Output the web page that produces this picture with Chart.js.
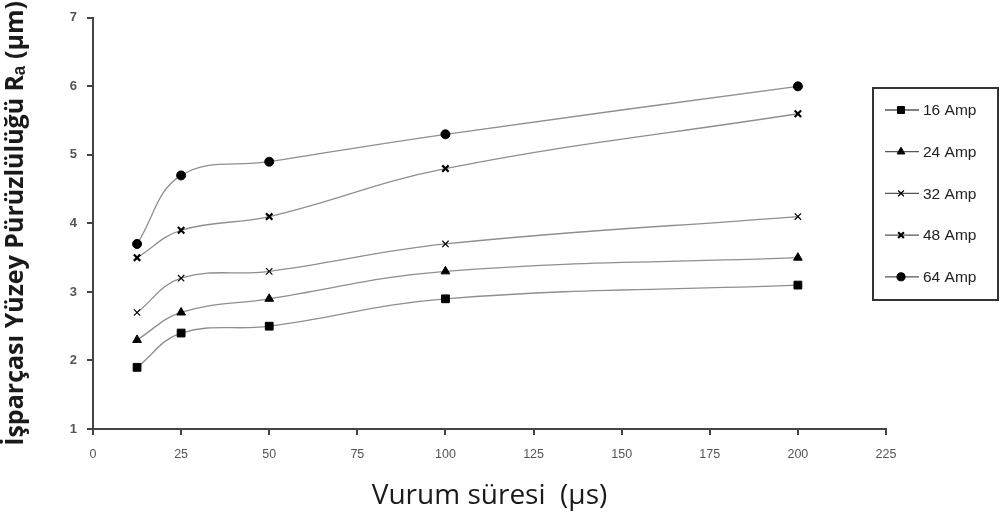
<!DOCTYPE html>
<html>
<head>
<meta charset="utf-8">
<script src="https://cdn.jsdelivr.net/npm/chart.js@4/dist/chart.umd.min.js"></script>
<style>
  html, body { margin: 0; padding: 0; background: #fff; }
  #wrap { width: 1003px; height: 519px; position: relative; }
</style>
</head>
<body>
<div id="wrap"><canvas id="chart"></canvas></div>
<script>
// pulse duration (µs)
const pulseTimes = [12.5, 25, 50, 100, 200];

// surface roughness Ra (µm) per current
const amp16 = [1.9, 2.4, 2.5, 2.9, 3.1];
const amp24 = [2.3, 2.7, 2.9, 3.3, 3.5];
const amp32 = [2.7, 3.2, 3.3, 3.7, 4.1];
const amp48 = [3.5, 3.9, 4.1, 4.8, 5.6];
const amp64 = [3.7, 4.7, 4.9, 5.3, 6.0];

const seriesLabels = ['16 Amp', '24 Amp', '32 Amp', '48 Amp', '64 Amp'];
const seriesValues = [amp16, amp24, amp32, amp48, amp64];
const markers = ['rect', 'triangle', 'crossRot', 'crossRot', 'circle'];
const markerSizes = [5.5, 5, 4.5, 4.5, 4.5];
const markerBorders = [1, 1, 1.2, 2.2, 1];

const datasets = seriesValues.map((vals, i) => ({
    label: seriesLabels[i],
    data: vals.map((v, j) => ({ x: pulseTimes[j], y: v })),
    borderColor: '#8f8f8f',
    borderWidth: 1.3,
    tension: 0.4,
    pointStyle: markers[i],
    pointRadius: markerSizes[i],
    pointBackgroundColor: '#000',
    pointBorderColor: '#000',
    pointBorderWidth: markerBorders[i],
    fill: false
}));

// legend box drawn on the right, line + marker like the original
const boxLegend = {
    id: 'boxLegend',
    afterDraw(chart) {
        const ctx = chart.ctx;
        const x0 = 873, y0 = 88, w = 125, h = 212;
        ctx.save();
        ctx.strokeStyle = '#333';
        ctx.lineWidth = 2;
        ctx.strokeRect(x0, y0, w, h);
        chart.data.datasets.forEach((ds, i) => {
            const y = 110 + i * 41.7;
            ctx.strokeStyle = '#555';
            ctx.lineWidth = 1.3;
            ctx.beginPath();
            ctx.moveTo(885, y);
            ctx.lineTo(919, y);
            ctx.stroke();
            ctx.fillStyle = '#000';
            ctx.strokeStyle = '#000';
            ctx.lineWidth = ds.pointBorderWidth;
            Chart.helpers.drawPoint(ctx, {
                pointStyle: ds.pointStyle,
                radius: ds.pointRadius * 0.9,
                borderWidth: ds.pointBorderWidth,
                rotation: 0
            }, 901, y);
            ctx.fillStyle = '#222';
            ctx.font = '15.5px "Liberation Sans", Arial, sans-serif';
            ctx.textBaseline = 'middle';
            ctx.textAlign = 'left';
            ctx.fillText(ds.label, 923, y + 1);
        });
        ctx.restore();
    }
};

new Chart(document.getElementById('chart'), {
    type: 'line',
    data: { datasets: datasets },
    plugins: [boxLegend],
    options: {
        responsive: true,
        maintainAspectRatio: false,
        animation: false,
        layout: { padding: { top: 15, right: 117, left: 0, bottom: 0 } },
        plugins: {
            legend: { display: false },
            tooltip: { enabled: false }
        },
        scales: {
            x: {
                type: 'linear',
                min: 0,
                max: 225,
                afterFit(scale) { scale.height = 90; },
                ticks: {
                    stepSize: 25,
                    padding: 12,
                    color: '#555',
                    font: { family: '"Liberation Sans", Arial, sans-serif', size: 12.5 }
                },
                grid: {
                    drawOnChartArea: false,
                    drawTicks: true,
                    tickLength: 6,
                    color: '#444',
                    lineWidth: 2
                },
                border: { color: '#444', width: 2 },
                title: {
                    display: true,
                    text: 'Vurum süresi  (µs)',
                    color: '#1a1a1a',
                    font: { family: '"Open Sans", sans-serif', size: 28, weight: '500' },
                    padding: { top: 0, bottom: 6 }
                }
            },
            y: {
                min: 1,
                max: 7,
                afterFit(scale) { scale.width = 93; },
                ticks: {
                    stepSize: 1,
                    padding: 10,
                    color: '#555',
                    font: { family: '"Liberation Sans", Arial, sans-serif', size: 13, weight: 'bold' }
                },
                grid: {
                    drawOnChartArea: false,
                    drawTicks: true,
                    tickLength: 6,
                    color: '#444',
                    lineWidth: 2
                },
                border: { color: '#444', width: 2 },
                title: {
                    display: true,
                    text: 'İşparçası Yüzey Pürüzlülüğü Rₐ (µm)',
                    color: '#1a1a1a',
                    font: { family: '"Open Sans", sans-serif', size: 25, weight: 'bold' },
                    padding: { top: 1, bottom: 0 }
                }
            }
        }
    }
});
</script>
</body>
</html>
